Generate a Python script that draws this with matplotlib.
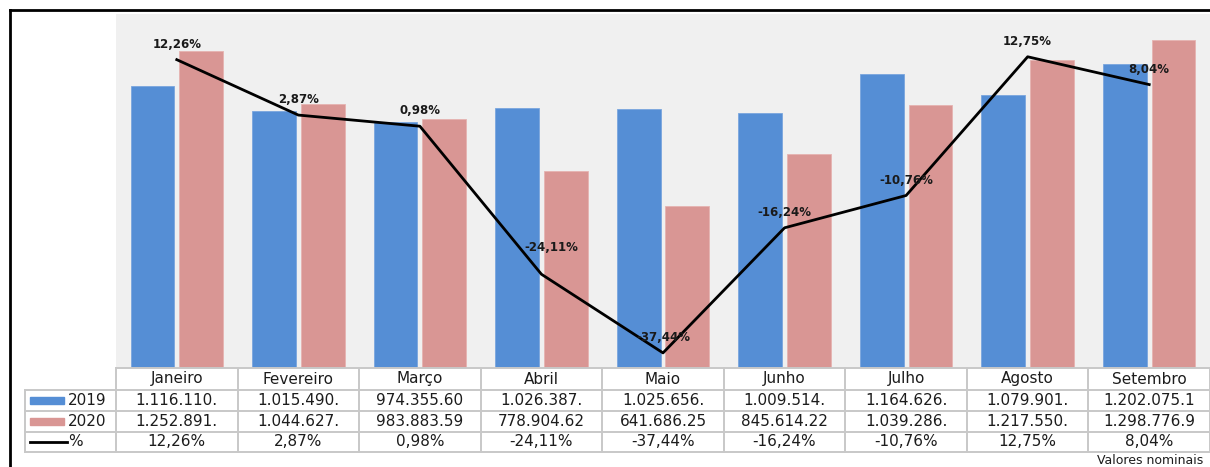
import matplotlib
matplotlib.use("Agg")
import matplotlib.pyplot as plt
import matplotlib.transforms as mtransforms
from matplotlib.lines import Line2D
from matplotlib.patches import Rectangle
import numpy as np

# data
meses = ["Janeiro", "Fevereiro", "Março", "Abril", "Maio", "Junho", "Julho", "Agosto", "Setembro"]
v2019 = [1116110, 1015490, 974355.60, 1026387, 1025656, 1009514, 1164626, 1079901, 1202075.1]
v2020 = [1252891, 1044627, 983883.59, 778904.62, 641686.25, 845614.22, 1039286, 1217550, 1298776.9]
pct = [12.26, 2.87, 0.98, -24.11, -37.44, -16.24, -10.76, 12.75, 8.04]
txt2019 = ["1.116.110.", "1.015.490.", "974.355.60", "1.026.387.", "1.025.656.",
           "1.009.514.", "1.164.626.", "1.079.901.", "1.202.075.1"]
txt2020 = ["1.252.891.", "1.044.627.", "983.883.59", "778.904.62", "641.686.25",
           "845.614.22", "1.039.286.", "1.217.550.", "1.298.776.9"]
txtpct = ["12,26%", "2,87%", "0,98%", "-24,11%", "-37,44%", "-16,24%", "-10,76%", "12,75%", "8,04%"]

azul = "#558ed5"
rosa = "#d99694"
grade = "#c8c8c8"
cor_txt = "#1c1c1c"

W, H = 1210, 467
fig = plt.figure(figsize=(W / 100, H / 100), dpi=100)

def fy(py):
    return 1 - py / H

def fx(px):
    return px / W

ax = fig.add_axes([fx(116), fy(368), fx(1210) - fx(116), fy(14) - fy(368)])
ax.set_facecolor("#f0f0f0")
x = np.arange(len(meses))
ax.bar(x - 0.2, v2019, width=0.36, color=azul, edgecolor="#7aa6de", linewidth=0.6, zorder=2)
ax.bar(x + 0.2, v2020, width=0.36, color=rosa, edgecolor="#e6b3b1", linewidth=0.6, zorder=2)
ax.set_xlim(-0.5, len(meses) - 0.5)
ax.set_ylim(0, 1400000)
ax.set_xticks([])
ax.set_yticks([])
for s in ax.spines.values():
    s.set_visible(False)

ax2 = ax.twinx()
ax2.plot(x, pct, color="black", linewidth=2.0, zorder=5)
ax2.set_ylim(-40, 20)
ax2.set_yticks([])
for s in ax2.spines.values():
    s.set_visible(False)
for i, (xi, p, t) in enumerate(zip(x, pct, txtpct)):
    off = (7, 19) if i == 3 else (0, 11)
    ax2.annotate(t, (xi, p), xytext=off, textcoords="offset points",
                 ha="center", va="center", fontsize=8.5, fontweight="bold", color="#1a1a1a", zorder=6)

# data table below the plot
tr = mtransforms.blended_transform_factory(ax.transData, fig.transFigure)
fig.add_artist(Line2D([fx(116), fx(1210)], [fy(368), fy(368)], transform=fig.transFigure, color=grade, lw=1.4))
for py in [390, 411, 432, 452]:
    fig.add_artist(Line2D([fx(25), fx(1210)], [fy(py), fy(py)], transform=fig.transFigure, color=grade, lw=1.4))
fig.add_artist(Line2D([fx(25), fx(25)], [fy(390), fy(452)], transform=fig.transFigure, color=grade, lw=1.4))
for b in np.arange(len(meses) + 1) - 0.5:
    fig.add_artist(Line2D([b, b], [fy(368), fy(452)], transform=tr, color=grade, lw=1.4))

fs = 11
for i in range(len(meses)):
    fig.text(i, fy(379), meses[i], transform=tr, ha="center", va="center", fontsize=fs, color=cor_txt)
    fig.text(i, fy(400.5), txt2019[i], transform=tr, ha="center", va="center", fontsize=fs, color=cor_txt)
    fig.text(i, fy(421.5), txt2020[i], transform=tr, ha="center", va="center", fontsize=fs, color=cor_txt)
    fig.text(i, fy(442), txtpct[i], transform=tr, ha="center", va="center", fontsize=fs, color=cor_txt)

# legend keys in the left column
fig.add_artist(Rectangle((fx(30), fy(404)), fx(64) - fx(30), fy(397) - fy(404),
                         transform=fig.transFigure, color=azul))
fig.add_artist(Rectangle((fx(30), fy(425)), fx(64) - fx(30), fy(418) - fy(425),
                         transform=fig.transFigure, color=rosa))
fig.add_artist(Line2D([fx(30), fx(67)], [fy(442), fy(442)], transform=fig.transFigure, color="black", lw=2.0))
fig.text(fx(68), fy(400.5), "2019", ha="left", va="center", fontsize=fs, color=cor_txt)
fig.text(fx(68), fy(421.5), "2020", ha="left", va="center", fontsize=fs, color=cor_txt)
fig.text(fx(68), fy(442), "%", ha="left", va="center", fontsize=fs, color=cor_txt)

fig.text(fx(1203), fy(460), "Valores nominais", ha="right", va="center", fontsize=9, color=cor_txt)

# outer frame
fig.add_artist(Line2D([fx(10), fx(1210)], [fy(10), fy(10)], transform=fig.transFigure, color="black", lw=2.0))
fig.add_artist(Line2D([fx(10), fx(10)], [fy(10), fy(467)], transform=fig.transFigure, color="black", lw=2.0))

fig.savefig("out.png", dpi=100)
